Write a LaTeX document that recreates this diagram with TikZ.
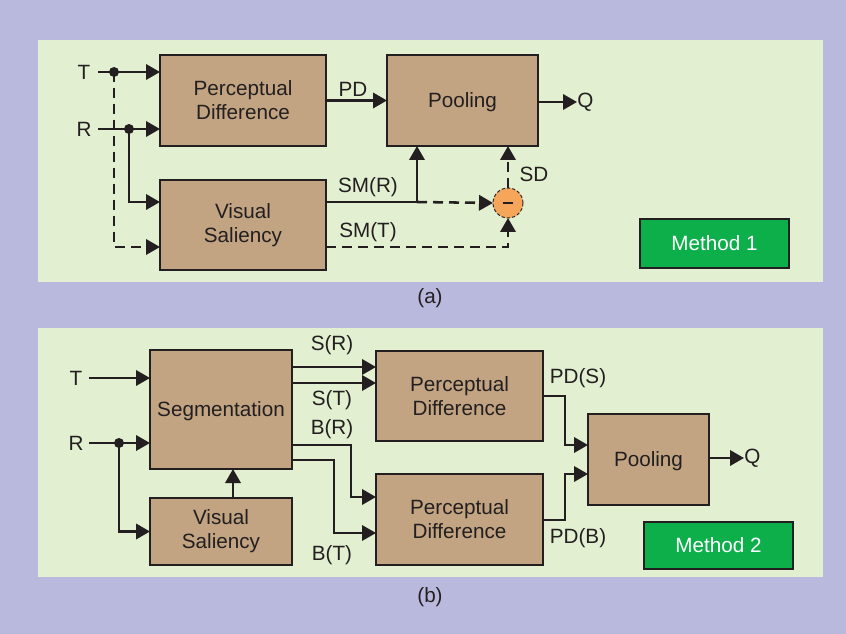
\documentclass[tikz,border=0pt]{standalone}
\usepackage{fontspec}
\setmainfont{Liberation Sans}
\usetikzlibrary{arrows.meta,calc}
\definecolor{lav}{RGB}{185,185,221}
\definecolor{panel}{RGB}{226,239,208}
\definecolor{tan}{RGB}{194,164,130}
\definecolor{ink}{RGB}{35,31,32}
\definecolor{orng}{RGB}{245,166,90}
\definecolor{mgreen}{RGB}{13,175,75}
\tikzset{
  x=0.75pt,y=-0.75pt,
  every node/.style={font=\fontsize{15.5}{18}\selectfont,text=ink},
  blk/.style={draw=ink,line width=0.9pt,fill=tan,align=center,inner sep=0pt,outer sep=0pt},
  one/.style={text depth=0pt},
  meth/.style={draw=ink,line width=0.9pt,fill=mgreen,text=white,inner sep=0pt,outer sep=0pt,minimum width=111.75pt},
  lbl/.style={inner sep=0pt},
  ln/.style={draw=ink,line width=1.9pt},
  arr/.style={ln,-{Triangle[length=10.5pt,width=11.5pt]}},
  dsh/.style={dash pattern=on 7.5pt off 4.5pt},
  dot/.style={circle,fill=ink,inner sep=0pt,minimum size=7.5pt},
}
\begin{document}
\begin{tikzpicture}
\fill[lav] (0,0) rectangle (846,634);
\useasboundingbox (0,0) rectangle (846,634);
\fill[panel] (38,40) rectangle (823,282);
\fill[panel] (38,328) rectangle (823,577);

% ---------- panel (a) ----------
\node[blk,minimum width=124.5pt,minimum height=68.25pt] (pda) at (243,100.5) {Perceptual\\Difference};
\node[blk,minimum width=124.5pt,minimum height=67.5pt] (vsa) at (243,225) {Visual\\Saliency};
\node[blk,one,minimum width=113.25pt,minimum height=68.25pt] (poola) at (462.5,100.5) {Pooling};
\node[meth,minimum height=36.75pt] (m1) at (714.5,243.5) {Method 1};
\node[circle,draw=ink,dash pattern=on 2.5pt off 1.5pt,line width=0.7pt,fill=orng,minimum size=22.5pt,inner sep=0pt,outer sep=0pt] (minus) at (508,203) {};
\draw[ink,line width=1.2pt] ($(minus)+(-5,0)$) -- ($(minus)+(5,0)$);

\node[lbl] (Ta) at (84,72) {T};
\node[lbl] (Ra) at (84,129) {R};
\coordinate (Tina) at (98,72);
\coordinate (Rina) at (98,129);
\coordinate (Tdot) at (114,72);
\coordinate (Rdot) at (129,129);
\coordinate (Tturn) at (114,247);
\coordinate (Rturn) at (129,202);
\coordinate (smrj) at (417,202);
\coordinate (smtj) at (508,247);

\draw[arr,dsh] (Tdot) -- (Tturn) -- (vsa.west |- Tturn);
\draw[arr] (Tina) -- (pda.west |- Tina);
\draw[arr] (Rina) -- (pda.west |- Rina);
\draw[arr] (Rdot) -- (Rturn) -- (vsa.west |- Rturn);
\node[dot] at (Tdot) {};
\node[dot] at (Rdot) {};

\draw[arr] (pda.east) -- (poola.west);
\node[lbl] (pdl) at (353,89) {PD};
\node[lbl,anchor=west] (Qa) at (577,102) {Q};
\draw[arr] (poola.east |- Qa) -- (Qa.west);

\draw[ln] (vsa.east |- smrj) -- (smrj);
\draw[arr] (smrj) -- (poola.south -| smrj);
\draw[arr,dsh] (smrj) -- (minus.west);
\draw[arr,dsh] (vsa.east |- smtj) -- (smtj) -- (minus.south);
\draw[arr,dsh] (minus.north) -- (poola.south -| minus);
\node[lbl] (smrl) at (368,187) {SM(R)};
\node[lbl] (smtl) at (368,232) {SM(T)};
\node[lbl] (sdl) at (534,174) {SD};
\node[lbl] (capa) at (430,298) {(a)};

% ---------- panel (b) ----------
\node[blk,one,minimum width=106.5pt,minimum height=89.25pt] (seg) at (221,409.5) {Segmentation};
\node[blk,minimum width=106.5pt,minimum height=50.25pt] (vsb) at (221,531.5) {Visual\\Saliency};
\node[blk,minimum width=125.25pt,minimum height=67.5pt] (pd1) at (459.5,396) {Perceptual\\Difference};
\node[blk,minimum width=125.25pt,minimum height=68.25pt] (pd2) at (459.5,519.5) {Perceptual\\Difference};
\node[blk,one,minimum width=90.75pt,minimum height=68.25pt] (poolb) at (648.5,459.5) {Pooling};
\node[meth,minimum height=35.25pt] (m2) at (718.5,545.5) {Method 2};

\node[lbl] (Tb) at (76,378) {T};
\node[lbl] (Rb) at (76,443) {R};
\coordinate (Tinb) at (89,378);
\coordinate (Rinb) at (89,443);
\coordinate (Rdotb) at (119,443);
\draw[arr] (Tinb) -- (seg.west |- Tinb);
\draw[arr] (Rinb) -- (seg.west |- Rinb);
\draw[arr] (Rdotb) |- (vsb.west);
\node[dot] at (Rdotb) {};
\draw[arr] ([xshift=9pt]vsb.north) -- ([xshift=9pt]seg.south);

\coordinate (sr) at (292,367);
\coordinate (st) at (292,383);
\draw[arr] (seg.east |- sr) -- (pd1.west |- sr);
\draw[arr] (seg.east |- st) -- (pd1.west |- st);
\coordinate (br1) at (351,445);
\coordinate (br2) at (351,497);
\coordinate (bt1) at (334,460);
\coordinate (bt2) at (334,533);
\draw[arr] (seg.east |- br1) -- (br1) -- (br2) -- (pd2.west |- br2);
\draw[arr] (seg.east |- bt1) -- (bt1) -- (bt2) -- (pd2.west |- bt2);
\node[lbl] (srl) at (332,345) {S(R)};
\node[lbl] (stl) at (332,400) {S(T)};
\node[lbl] (brl) at (332,429) {B(R)};
\node[lbl] (btl) at (332,555) {B(T)};

\coordinate (ps1) at (565,396);
\coordinate (ps2) at (565,445);
\coordinate (pb1) at (565,520);
\coordinate (pb2) at (565,474);
\draw[arr] (pd1.east |- ps1) -- (ps1) -- (ps2) -- (poolb.west |- ps2);
\draw[arr] (pd2.east |- pb1) -- (pb1) -- (pb2) -- (poolb.west |- pb2);
\node[lbl] (psl) at (578,378) {PD(S)};
\node[lbl] (pbl) at (578,538) {PD(B)};
\node[lbl,anchor=west] (Qb) at (744,458) {Q};
\draw[arr] (poolb.east |- Qb) -- (Qb.west);
\node[lbl] (capb) at (430,597) {(b)};
\end{tikzpicture}
\end{document}
